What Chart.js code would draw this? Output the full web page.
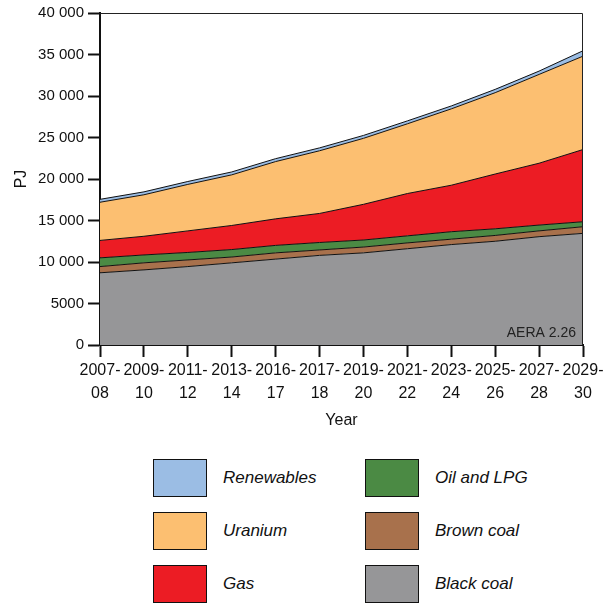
<!DOCTYPE html>
<html>
<head>
<meta charset="utf-8">
<script src="https://cdn.jsdelivr.net/npm/chart.js@4.4.0/dist/chart.umd.min.js"></script>
<style>
    html, body { margin: 0; padding: 0; background: #fff; }
    #wrap { position: relative; width: 609px; height: 603px; overflow: hidden; font-family: "Liberation Sans", Arial, sans-serif; }
    #chartBox { position: absolute; left: 0; top: 0; width: 609px; height: 440px; }
    .legend-item { position: absolute; height: 38px; display: flex; align-items: center; }
    .legend-swatch { width: 52px; height: 36px; border: 1px solid #111; box-sizing: content-box; }
    .legend-text { position: absolute; left: 70px; font-style: italic; font-size: 17px; color: #111; white-space: nowrap; }
</style>
</head>
<body>
<div id="wrap">
    <div id="chartBox"><canvas id="energyChart"></canvas></div>
    <div id="legend"></div>
</div>
<script>
// Years (financial years)
const years = ['2007-08', '2009-10', '2011-12', '2013-14', '2016-17', '2017-18',
               '2019-20', '2021-22', '2023-24', '2025-26', '2027-28', '2029-30'];

// Energy by fuel, PJ
const blackCoal  = [8700, 9050, 9450, 9900, 10350, 10800, 11100, 11600, 12100, 12500, 13050, 13450];
const brownCoal  = [750, 850, 800, 700, 750, 650, 700, 700, 650, 700, 700, 800];
const oilLpg     = [1050, 950, 900, 900, 900, 900, 850, 850, 900, 800, 700, 600];
const gas        = [2100, 2250, 2600, 2900, 3200, 3500, 4300, 5100, 5600, 6600, 7450, 8700];
const uranium    = [4600, 5000, 5600, 6100, 6900, 7550, 7950, 8400, 9200, 9800, 10700, 11250];
const renewables = [350, 350, 350, 350, 350, 350, 350, 350, 350, 400, 400, 650];

const yTicks = [0, 5000, 10000, 15000, 20000, 25000, 30000, 35000, 40000];

const fuels = [
    { label: 'Black coal',  data: blackCoal,  color: '#969698' },
    { label: 'Brown coal',  data: brownCoal,  color: '#a8714c' },
    { label: 'Oil and LPG', data: oilLpg,     color: '#4b8a44' },
    { label: 'Gas',         data: gas,        color: '#ec1c24' },
    { label: 'Uranium',     data: uranium,    color: '#fcbf71' },
    { label: 'Renewables',  data: renewables, color: '#9bbde4' }
];

document.addEventListener('DOMContentLoaded', function() {
    const font = '"Liberation Sans", Arial, sans-serif';

    function formatTick(v) {
        if (v >= 10000) {
            return Math.floor(v / 1000) + ' ' + String(v % 1000).padStart(3, '0');
        }
        return String(v);
    }

    // Frame on top/right plus the source note
    const framePlugin = {
        id: 'frame',
        afterDatasetsDraw(chart) {
            const { ctx, chartArea: a } = chart;
            ctx.save();
            ctx.strokeStyle = '#222';
            ctx.lineWidth = 1;
            ctx.beginPath();
            ctx.moveTo(a.left, a.top + 0.5);
            ctx.lineTo(a.right - 0.5, a.top + 0.5);
            ctx.lineTo(a.right - 0.5, a.bottom);
            ctx.stroke();
            ctx.font = '14px ' + font;
            ctx.fillStyle = '#222';
            ctx.textAlign = 'right';
            ctx.textBaseline = 'alphabetic';
            ctx.fillText('AERA 2.26', a.right - 7, a.bottom - 8);
            ctx.restore();
        }
    };

    const ctx = document.getElementById('energyChart');
    new Chart(ctx, {
        type: 'line',
        data: {
            labels: years.map(y => [y.slice(0, 5), y.slice(5)]),
            datasets: fuels.map((f, i) => ({
                label: f.label,
                data: f.data,
                backgroundColor: f.color,
                borderColor: '#111',
                borderWidth: 1,
                pointRadius: 0,
                tension: 0,
                fill: i === 0 ? 'origin' : '-1'
            }))
        },
        options: {
            responsive: true,
            maintainAspectRatio: false,
            animation: false,
            layout: { padding: { top: 13, right: 26, left: 12, bottom: 10 } },
            plugins: {
                legend: { display: false },
                tooltip: { enabled: false }
            },
            scales: {
                x: {
                    type: 'category',
                    offset: false,
                    grid: { drawOnChartArea: false, drawTicks: true, tickLength: 12, tickColor: '#111', tickWidth: 2 },
                    border: { display: true, color: '#111', width: 2 },
                    ticks: {
                        color: '#111',
                        font: { family: font, size: 16, lineHeight: 1.45 },
                        padding: 2,
                        maxRotation: 0,
                        autoSkip: false
                    },
                    title: {
                        display: true,
                        text: 'Year',
                        color: '#111',
                        font: { family: font, size: 16 },
                        padding: { top: 2, bottom: 0 }
                    },
                    afterFit: scale => { scale.height = 85; }
                },
                y: {
                    stacked: true,
                    min: 0,
                    max: 40000,
                    afterBuildTicks: scale => { scale.ticks = yTicks.map(v => ({ value: v })); },
                    grid: { drawOnChartArea: false, drawTicks: true, tickLength: 12, tickColor: '#111', tickWidth: 2 },
                    border: { display: true, color: '#111', width: 2 },
                    ticks: {
                        color: '#111',
                        font: { family: font, size: 15 },
                        padding: 4,
                        callback: v => formatTick(v)
                    },
                    title: {
                        display: true,
                        text: 'PJ',
                        color: '#111',
                        font: { family: font, size: 16 },
                        padding: { top: 0, bottom: 0 }
                    },
                    afterFit: scale => { scale.width = 88; }
                }
            }
        },
        plugins: [framePlugin]
    });

    // Legend: two columns, three rows
    const legendOrder = ['Renewables', 'Uranium', 'Gas', 'Oil and LPG', 'Brown coal', 'Black coal'];
    const legend = document.getElementById('legend');
    legendOrder.forEach((name, i) => {
        const f = fuels.find(d => d.label === name);
        const col = Math.floor(i / 3);
        const row = i % 3;
        const item = document.createElement('div');
        item.className = 'legend-item';
        item.style.left = (153 + col * 212) + 'px';
        item.style.top = (459 + row * 53) + 'px';
        item.innerHTML = '<div class="legend-swatch" style="background:' + f.color + '"></div>' +
            '<span class="legend-text">' + f.label + '</span>';
        legend.appendChild(item);
    });
});
</script>
</body>
</html>
